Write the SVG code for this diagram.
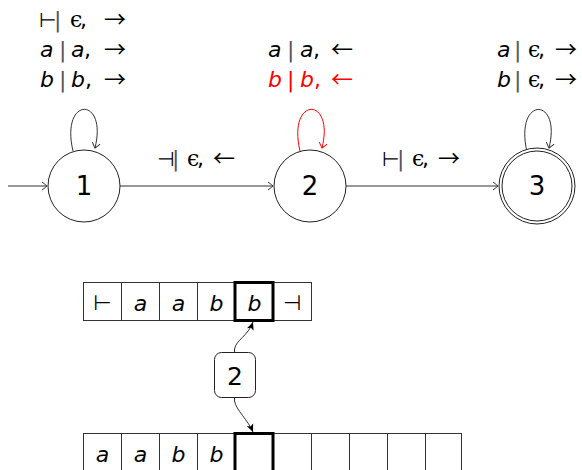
<svg xmlns="http://www.w3.org/2000/svg" width="582" height="470" viewBox="0 0 582 470">
<defs>
<style>
.st{fill:#fff;stroke:#222;stroke-width:1}
.ed{fill:none;stroke:#333;stroke-width:1}
.red{stroke:#f00}
.lb{font-family:"DejaVu Sans","Liberation Sans",sans-serif;font-size:22px;fill:#000}
.ctr{text-anchor:middle}
.num{font-family:"DejaVu Sans","Liberation Sans",sans-serif;font-size:26px;fill:#000;text-anchor:middle}
.it{font-style:italic}
.sf{font-family:"DejaVu Serif","Liberation Serif",serif}
.ar{font-family:"Noto Sans CJK SC","DejaVu Sans",sans-serif;font-size:22px}
.tk{font-size:20px}
.bar{fill:#555}
.rt{fill:#f00}
.cell{fill:#fff;stroke:#333;stroke-width:1}
.head{fill:none;stroke:#000;stroke-width:3}
</style>
<marker id="to" viewBox="-6 -5 8 10" refX="0" refY="0" markerWidth="8" markerHeight="10" markerUnits="userSpaceOnUse" orient="auto">
<path d="M-5,-4 Q-1,-1 0,0 Q-1,1 -5,4" fill="none" stroke="#333" stroke-width="1"/>
</marker>
<marker id="tor" viewBox="-6 -5 8 10" refX="0" refY="0" markerWidth="8" markerHeight="10" markerUnits="userSpaceOnUse" orient="auto">
<path d="M-5,-4 Q-1,-1 0,0 Q-1,1 -5,4" fill="none" stroke="#f00" stroke-width="1"/>
</marker>
<marker id="stl" viewBox="-8 -4 9 8" refX="0" refY="0" markerWidth="9" markerHeight="8" markerUnits="userSpaceOnUse" orient="auto">
<path d="M0,0 L-8,-3.5 L-6,0 L-8,3.5 Z" fill="#000"/>
</marker>
</defs>

<g id="connectors">
<line class="ed" x1="8" y1="186" x2="47" y2="186" marker-end="url(#to)"/>
<line class="ed" x1="120" y1="186" x2="273" y2="186" marker-end="url(#to)"/>
<line class="ed" x1="346" y1="186" x2="498" y2="186" marker-end="url(#to)"/>
<path class="ed" d="M73,151 C60,96 108,96 95,148" marker-end="url(#to)"/>
<path class="ed red" d="M300,151 C287,96 335,96 322,148" marker-end="url(#tor)"/>
<path class="ed" d="M527,152 C514,96 562,96 549,148" marker-end="url(#to)"/>
<path class="ed" d="M234.5,352 L234.5,349 C236,340 248,336 253,322" marker-end="url(#stl)"/>
<path class="ed" d="M234.5,398 L234.5,401 C236,410 248,420 253,432" marker-end="url(#stl)"/>
<text class="lb" y="166"><tspan x="157" class="tk">⊣</tspan><tspan x="172" class="bar">|</tspan><tspan x="187" class="sf">ϵ</tspan><tspan x="197">,</tspan><tspan x="213" class="ar">←</tspan></text>
<text class="lb" y="166"><tspan x="382" class="tk">⊢</tspan><tspan x="397" class="bar">|</tspan><tspan x="412" class="sf">ϵ</tspan><tspan x="422">,</tspan><tspan x="438" class="ar">→</tspan></text>
</g>

<g id="state1">
<circle class="st" cx="84" cy="186" r="36"/>
<text class="num" x="84" y="195">1</text>
<text class="lb" y="27"><tspan x="39" class="tk">⊢</tspan><tspan x="54" class="bar">|</tspan><tspan x="70" class="sf">ϵ</tspan><tspan x="80">,</tspan><tspan x="104" class="ar">→</tspan></text>
<text class="lb" y="57"><tspan x="40" class="it">a</tspan><tspan x="59" class="bar">|</tspan><tspan x="71" class="it">a</tspan><tspan x="84">,</tspan><tspan x="104" class="ar">→</tspan></text>
<text class="lb" y="87"><tspan x="40" class="it">b</tspan><tspan x="59" class="bar">|</tspan><tspan x="71" class="it">b</tspan><tspan x="85">,</tspan><tspan x="104" class="ar">→</tspan></text>
</g>

<g id="state2">
<circle class="st" cx="310" cy="186" r="36"/>
<text class="num" x="310" y="195">2</text>
<text class="lb" y="57"><tspan x="268" class="it">a</tspan><tspan x="287" class="bar">|</tspan><tspan x="300" class="it">a</tspan><tspan x="313">,</tspan><tspan x="331" class="ar">←</tspan></text>
<text class="lb rt" y="87"><tspan x="268" class="it">b</tspan><tspan x="287">|</tspan><tspan x="300" class="it">b</tspan><tspan x="314">,</tspan><tspan x="331" class="ar">←</tspan></text>
</g>

<g id="state3">
<circle class="st" cx="537" cy="186" r="38"/>
<circle cx="537" cy="186" r="35" fill="none" stroke="#222" stroke-width="1"/>
<text class="num" x="537" y="195">3</text>
<text class="lb" y="57"><tspan x="497" class="it">a</tspan><tspan x="514" class="bar">|</tspan><tspan x="528" class="sf">ϵ</tspan><tspan x="538">,</tspan><tspan x="555" class="ar">→</tspan></text>
<text class="lb" y="87"><tspan x="497" class="it">b</tspan><tspan x="514" class="bar">|</tspan><tspan x="528" class="sf">ϵ</tspan><tspan x="538">,</tspan><tspan x="555" class="ar">→</tspan></text>
</g>

<g id="tape1">
<rect class="cell" x="83.5" y="282.5" width="38" height="38"/>
<rect class="cell" x="121.5" y="282.5" width="38" height="38"/>
<rect class="cell" x="159.5" y="282.5" width="38" height="38"/>
<rect class="cell" x="197.5" y="282.5" width="38" height="38"/>
<rect class="cell" x="235.5" y="282.5" width="38" height="38"/>
<rect class="cell" x="273.5" y="282.5" width="38" height="38"/>
<rect class="head" x="235" y="282.5" width="38" height="38"/>
<text class="lb ctr" x="102.5" y="310" style="font-size:21px">⊢</text>
<text class="lb ctr it" x="140.5" y="311">a</text>
<text class="lb ctr it" x="178.5" y="311">a</text>
<text class="lb ctr it" x="216.5" y="311">b</text>
<text class="lb ctr it" x="254.5" y="311">b</text>
<text class="lb ctr" x="292.5" y="310" style="font-size:21px">⊣</text>
</g>

<g id="control">
<rect x="214.5" y="352.5" width="41" height="45" rx="7" fill="#fff" stroke="#222" stroke-width="1"/>
<text class="num" x="235" y="385" style="font-size:25px">2</text>
</g>

<g id="tape2">
<rect class="cell" x="83.5" y="433.5" width="38" height="38"/>
<rect class="cell" x="121.5" y="433.5" width="38" height="38"/>
<rect class="cell" x="159.5" y="433.5" width="38" height="38"/>
<rect class="cell" x="197.5" y="433.5" width="38" height="38"/>
<rect class="cell" x="235.5" y="433.5" width="38" height="38"/>
<rect class="cell" x="273.5" y="433.5" width="38" height="38"/>
<rect class="cell" x="311.5" y="433.5" width="38" height="38"/>
<rect class="cell" x="349.5" y="433.5" width="38" height="38"/>
<rect class="cell" x="387.5" y="433.5" width="38" height="38"/>
<rect class="cell" x="425.5" y="433.5" width="36" height="38"/>
<rect class="head" x="235" y="433.5" width="38" height="40"/>
<text class="lb ctr it" x="102.5" y="462">a</text>
<text class="lb ctr it" x="140.5" y="462">a</text>
<text class="lb ctr it" x="178.5" y="462">b</text>
<text class="lb ctr it" x="216.5" y="462">b</text>
</g>
</svg>
